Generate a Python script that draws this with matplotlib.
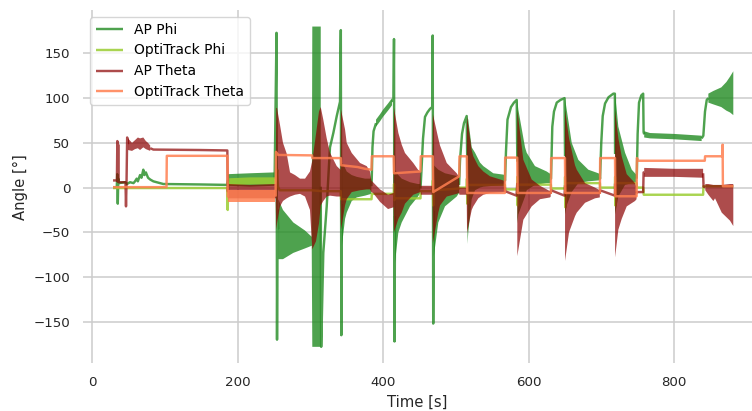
import numpy as np
import matplotlib
matplotlib.use("Agg")
import matplotlib.pyplot as plt

# Each row: time [s], lower envelope [deg], upper envelope [deg].
# Where lower == upper the trace is a plain line; wider rows are dense oscillation bands.
ap_phi = [
    (28.9, 0, 0), (34.0, 0, 0), (34.7, 15, 15), (35.4, -18, -18), (36.1, 10, 10),
    (36.8, 5, 5), (46.0, 6, 6), (48.0, 4, 4), (52.2, 6, 6), (57.0, 5, 5),
    (59.1, 7, 7), (61.4, 10, 10), (63.0, 7, 7), (66.0, 14, 14), (68.0, 11, 11),
    (70.5, 20, 20), (72.0, 14, 14), (74.0, 17, 17), (77.0, 11, 11), (80.0, 9, 9),
    (84.3, 7, 7), (98.0, 4, 4), (148.5, 3.5, 3.5), (186.0, 3, 3),
    (187.0, 2, 15), (217.0, 1, 16), (251.0, 2, 17),
    (253.6, 173, 173), (254.3, -170, -170), (255.0, -25, -25),
    (256.0, -80, -13), (262.5, -80, -25), (276.7, -73, -39), (292.8, -68, -48),
    (302.0, -65, -55), (302.8, -178, 180), (314.4, -178, 180),
    (315.0, -178, -178), (317.9, -73, -73), (322.6, -21, -21), (327.1, 45, 45),
    (331.7, 61, 61), (336.4, 80, 80), (340.9, 96, 96),
    (342.0, 176, 176), (342.7, -165, -165),
    (343.5, -65, 28), (347.8, -35, 22), (350.1, -28, 18), (357.0, -15, 14),
    (363.9, -11, 12), (375.3, -9, 10), (384.0, -7, 10),
    (384.5, 10, 10), (385.5, 45, 45), (387.0, 63, 63),
    (390.4, 68, 76), (395.9, 74, 82), (400.0, 79, 87), (406.9, 86, 94),
    (412.4, 92, 100), (414.4, 96, 100),
    (415.1, 166, 166), (415.8, -172, -172),
    (416.5, -84, 20), (421.1, -50, 14), (425.7, -39, 10), (437.1, -21, 6),
    (448.1, -10, 4), (451.3, -6, 4),
    (451.8, 3, 3), (452.9, 20, 20), (455.0, 55, 55), (457.7, 79, 79),
    (461.0, 84, 84), (464.6, 88, 88), (467.6, 90, 90),
    (468.3, 170, 170), (469.0, -152, -152),
    (469.8, -77, 25), (476.0, -39, 20), (485.2, -21, 16), (501.3, -10, 13),
    (504.5, -6, 12),
    (505.0, 12, 12), (505.8, 30, 30), (508.6, 60, 60), (511.3, 72, 72), (515.0, 80, 80),
    (516.1, -63, 78), (517.2, -50, 76), (521.9, -13, 45), (526.5, -3, 39),
    (533.3, 0, 28), (537.9, 1, 24), (551.6, 2, 16), (565.4, 3, 14.5), (567.4, 4, 14),
    (567.7, 8, 8), (569.0, 40, 40), (571.1, 76, 76), (575.9, 90, 90),
    (580.0, 95, 95), (583.8, 98, 98),
    (584.6, -40, 98), (586.0, -30, 87), (595.2, -10, 45), (597.5, -3, 39),
    (608.9, 3, 24), (625.0, 5, 18), (630.5, 5, 15),
    (630.9, 10, 10), (632.7, 68, 68), (635.0, 85, 85), (638.8, 95, 95),
    (644.0, 98, 98), (649.5, 100, 100),
    (650.2, -30, 100), (652.5, -20, 87), (659.4, -5, 50), (668.5, 5, 31),
    (682.2, 7, 20), (696.0, 8, 16), (698.0, 8, 15),
    (698.3, 10, 10), (700.0, 50, 50), (702.0, 80, 80), (705.2, 94, 94),
    (710.0, 101, 101), (716.6, 105, 105), (718.7, 105, 105),
    (719.0, -30, 105), (723.5, -10, 68), (732.7, 3, 39), (741.9, 5, 20),
    (746.4, 6, 16), (748.5, 6, 14),
    (748.8, 12, 12), (750.0, 60, 60), (751.9, 95, 95), (755.0, 103, 103),
    (757.6, 105, 105), (758.2, 62, 62),
    (759.0, 56, 63), (767.0, 55, 61), (800.0, 54, 60), (838.0, 52, 58),
    (840.3, 58, 58), (842.6, 85, 85), (845.0, 98, 98),
    (847.2, 95, 105), (854.1, 93, 108), (865.0, 90, 112), (872.0, 86, 118),
    (877.0, 84, 124), (881.5, 81, 130),
]

optitrack_phi = [
    (28.9, -0.5, -0.5), (186.0, -0.5, -0.5), (186.5, -25, -25), (187.2, 6, 6),
    (187.8, 3, 11), (217.0, 4, 12), (251.5, 4, 12),
    (253.0, 8, 8), (254.6, 20, 20), (255.6, 1, 1), (258.0, -3, -3),
    (302.0, -3, -3), (316.0, -4, -4), (341.8, -4, -4),
    (342.3, -13, -13), (384.2, -13, -13), (384.6, -7, -7), (414.8, -7, -7),
    (415.2, 4, 4), (415.6, -14, -14), (416.0, -12, -12), (451.5, -12, -12),
    (451.9, -4, -4), (468.2, -4, -4), (468.6, 8, 8), (469.0, -20, -20),
    (469.4, -3, -3), (504.6, -1, -1), (505.0, 0, 0), (515.0, 0, 0),
    (515.4, 10, 10), (515.8, -18, -18), (516.2, 3, 3), (567.5, 3, 3),
    (567.9, -2, -2), (584.3, -2, -2), (584.7, 12, 12), (585.1, -20, -20),
    (585.5, 3.3, 3.3), (630.7, 3.3, 3.3), (631.1, -1, -1), (649.9, -1, -1),
    (650.3, 12, 12), (650.7, -22, -22), (651.1, 5, 5), (698.1, 5, 5),
    (698.5, 0, 0), (718.7, 0, 0), (719.1, 12, 12), (719.5, -20, -20),
    (719.9, 5, 5), (748.6, 5, 5), (749.0, 0, 0), (757.8, 0, 0),
    (758.4, -8, -8), (840.0, -8, -8), (840.5, 1.5, 1.5), (881.5, 1.5, 1.5),
]

ap_theta = [
    (28.9, 8, 8), (34.2, 8, 8), (34.8, 52, 52), (35.4, 7, 7), (36.0, 48, 48),
    (36.6, 6, 6), (46.0, 6, 6), (46.7, -21, -21), (47.4, 4, 4), (48.3, 56, 56),
    (49.5, 42, 55), (55.0, 41, 50), (59.1, 43, 53), (63.0, 44, 56), (66.0, 42, 55),
    (70.5, 45, 56), (74.0, 43, 52), (77.0, 42, 50), (80.0, 41, 47),
    (84.3, 42.5, 42.5), (148.5, 42, 42), (186.0, 41.5, 41.5), (186.6, -4, -4),
    (187.2, -12, 4), (217.0, -12, 3), (252.5, -12, 4),
    (253.2, -47, 89), (254.3, -40, 89), (258.4, -21, 70), (262.5, -15, 50),
    (267.6, -12, 38), (272.2, -10, 17), (279.0, -8, 14), (285.9, -7, 10),
    (292.8, -10, 10), (299.6, -25, 18), (302.8, -69, 30), (307.9, -60, 60),
    (312.0, -40, 85), (314.4, -20, 90), (317.9, -15, 76), (322.6, -10, 55),
    (327.1, -9, 39), (336.4, -10, 24), (341.5, -10, 20),
    (342.3, -47, 87), (347.8, -20, 65), (350.1, -13, 50), (357.0, -5, 38.7),
    (368.4, -3, 27.5), (377.6, -2, 24), (382.1, -2, 18), (384.0, -5, 8),
    (386.3, -6, 6), (395.9, -16, -2), (406.9, -24, -8), (414.5, -22, -6),
    (415.1, -50, 89), (421.1, -35, 61), (425.7, -28, 48), (430.2, -18, 38.7),
    (441.6, -8, 27.5), (448.1, -6, 20), (451.5, -5, 18),
    (452.0, -8, 2), (468.0, -8, 2),
    (468.6, -62, 82), (476.0, -28, 55), (478.4, -20, 47), (487.6, -10, 27.5),
    (501.3, -7, 16), (504.5, -6, 12),
    (505.0, -8, 0), (515.0, -8, 0),
    (515.5, -50.5, 79.5), (521.9, -25, 42), (524.1, -21, 35), (531.0, -12, 24),
    (537.9, -8, 18), (547.1, -6, 12.6), (565.4, -5, 8), (567.5, -5, 6),
    (567.7, -4, -4), (583.5, -9, -9),
    (584.6, -76.6, 87), (592.9, -36, 31), (604.4, -21, 9), (615.8, -13, 2),
    (629.6, -11, -4), (630.5, -10, -4),
    (631.0, -3, -3), (649.5, -9, -9),
    (650.2, -82, 87), (655.7, -50, 55), (663.9, -32, 25), (666.3, -28, 20),
    (677.7, -17, 5), (691.4, -12, 0), (698.0, -11, -3),
    (698.3, -3, -3), (718.7, -9, -9),
    (719.0, -78, 87), (723.5, -47, 55), (728.1, -35, 35), (735.0, -21, 15),
    (746.4, -15, 5), (748.5, -13, 0),
    (748.8, -5, -5), (757.6, -5, -5), (758.2, 17, 17),
    (759.0, 12, 22), (800.0, 12, 21), (840.0, 11, 21),
    (840.6, 1, 1), (843.0, -3, 4), (847.2, -8, 4), (854.1, -15, 3),
    (856.4, -12, 3), (865.6, -28, 3), (877.0, -37, 4), (881.5, -43, 4),
]

optitrack_theta = [
    (28.9, 0.5, 0.5), (102.4, 0.5, 0.5), (102.8, 35.5, 35.5), (186.2, 35.5, 35.5),
    (186.6, -10, -10), (187.2, -16, -3), (251.5, -16, -3), (252.4, -9, -9),
    (252.8, 40, 40), (256.0, 36.5, 36.5), (302.4, 36, 36), (302.9, 33, 33),
    (342.0, 33, 33), (342.5, 25, 25), (365.0, 23, 23), (375.3, 21, 21),
    (384.2, 20, 20), (384.6, 35, 35), (414.6, 35, 35), (415.1, 16, 16),
    (451.4, 18, 18), (451.9, 35, 35), (468.5, 35, 35), (469.0, -5, -5),
    (504.7, 12.6, 12.6), (505.1, 35, 35), (515.2, 35, 35), (515.7, -6, -6),
    (567.5, -6, -6), (567.9, 33.5, 33.5), (584.5, 33.5, 33.5), (585.0, -6, -6),
    (630.7, -6, -6), (631.1, 33, 33), (650.1, 33, 33), (650.5, -6, -6),
    (698.1, -6, -6), (698.5, 33, 33), (718.9, 33, 33), (719.3, -9.7, -9.7),
    (748.6, -9.7, -9.7), (749.0, 33, 33), (751.0, 30, 30), (842.3, 30, 30),
    (842.7, 35, 35), (866.5, 35, 35), (866.8, 48, 48), (867.2, 1.5, 1.5),
    (881.5, 1.5, 1.5),
]

series_labels = ["AP Phi", "OptiTrack Phi", "AP Theta", "OptiTrack Theta"]
series_colors = ["forestgreen", "yellowgreen", "darkred", "coral"]
series_alpha = [0.8, 0.85, 0.7, 0.85]
x_ticks = [0, 200, 400, 600, 800]
y_ticks = [-150, -100, -50, 0, 50, 100, 150]

TEXT = "#262626"
GRID = "#cccccc"


def draw_trace(ax, rows, color, alpha, label, z, band_min=5.0):
    t, lo, hi = (np.asarray(c, dtype=float) for c in zip(*rows))
    mid = (lo + hi) / 2.0
    wide = (hi - lo) >= band_min
    # dense oscillation: filled envelope
    ax.fill_between(t, lo, hi, where=wide, interpolate=False, color=color,
                    alpha=alpha, linewidth=0, zorder=z)
    # plain trace: one path, broken wherever both ends of a segment are a band
    px, py, last = [], [], None
    for i in range(len(t) - 1):
        if wide[i] and wide[i + 1]:
            continue
        if last != i:
            if px:
                px.append(np.nan)
                py.append(np.nan)
            px.append(t[i])
            py.append(mid[i])
        px.append(t[i + 1])
        py.append(mid[i + 1])
        last = i + 1
    ax.plot(px, py, color=color, alpha=alpha, lw=1.75, label=label, zorder=z,
            solid_joinstyle="round", solid_capstyle="butt")


fig = plt.figure(figsize=(7.52, 4.11), dpi=100)
ax = fig.add_axes([83 / 752, 47.7 / 411, 669 / 752, 353.3 / 411])

for k, rows in enumerate([ap_phi, optitrack_phi, ap_theta, optitrack_theta]):
    draw_trace(ax, rows, series_colors[k], series_alpha[k], series_labels[k], 2 + k)

ax.set_xlim(-12.4, 907.2)
ax.set_ylim(-196.4, 198.5)
ax.set_xticks(x_ticks)
ax.set_yticks(y_ticks)
ax.grid(True, color=GRID, linewidth=1.1)
ax.set_axisbelow(True)
for s in ax.spines.values():
    s.set_visible(False)
ax.tick_params(axis="both", length=0, pad=9.2, labelsize=9.6, labelcolor=TEXT)
ax.set_xlabel("Time [s]", fontsize=10.6, color=TEXT, labelpad=4)
ax.set_ylabel("Angle [°]", fontsize=10.6, color=TEXT, labelpad=4)

leg = ax.legend(loc="upper left", fontsize=10, frameon=True, fancybox=True,
                framealpha=0.8, edgecolor="#cccccc", borderaxespad=0.5,
                handlelength=2.0)
leg.set_zorder(20)

fig.savefig("out.png", dpi=100)
